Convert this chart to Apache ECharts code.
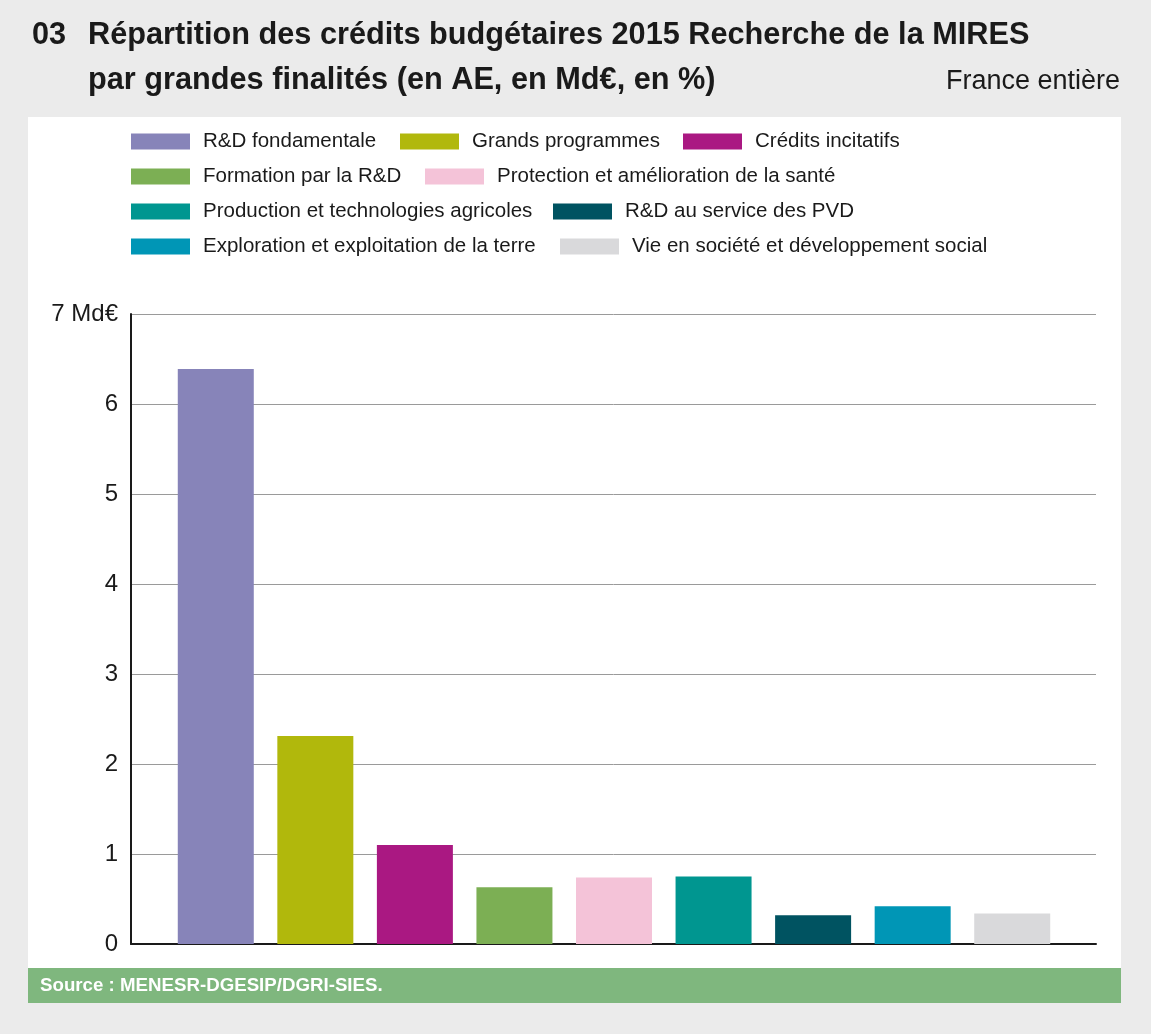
<!DOCTYPE html>
<html>
<head>
<meta charset="utf-8">
<script src="https://cdn.jsdelivr.net/npm/echarts@6/dist/echarts.min.js"></script>
<style>
  html, body { margin: 0; padding: 0; background: #ebebeb; }
  #chart { width: 1151px; height: 1034px; }
</style>
</head>
<body>
<div id="chart"></div>
<script>
// Données
var categories = [
  'R&D fondamentale',
  'Grands programmes',
  'Crédits incitatifs',
  'Formation par la R&D',
  'Protection et amélioration de la santé',
  'Production et technologies agricoles',
  'R&D au service des PVD',
  'Exploration et exploitation de la terre',
  'Vie en société et développement social'
];
var values = [6.39, 2.31, 1.10, 0.63, 0.74, 0.75, 0.32, 0.42, 0.34];
var yTicks = [0, 1, 2, 3, 4, 5, 6, 7];
var colors = ['#8784b9', '#b1b80c', '#aa1882', '#7caf54', '#f4c3d8', '#009690', '#005361', '#0096b6', '#d9d9db'];

var FONT = "'Liberation Sans', Arial, sans-serif";

// position des entrées de légende (gauche, haut)
var legendPos = [
  [131, 131], [400, 131], [683, 131],
  [131, 166], [425, 166],
  [131, 201], [553, 201],
  [131, 236], [560, 236]
];

var legends = categories.map(function (name, i) {
  return {
    data: [name],
    left: legendPos[i][0],
    top: legendPos[i][1],
    icon: 'rect',
    itemWidth: 59,
    itemHeight: 16,
    itemGap: 0,
    padding: 0,
    selectedMode: false,
    textStyle: { fontFamily: FONT, fontSize: 20.5, color: '#1a1a1a', padding: [0, 0, 0, 8] }
  };
});

var series = categories.map(function (name, i) {
  var d = categories.map(function (c, j) { return j === i ? values[i] : null; });
  return {
    name: name,
    type: 'bar',
    stack: 'all',
    xAxisIndex: 1,
    yAxisIndex: 1,
    barWidth: 76,
    itemStyle: { color: colors[i] },
    data: d
  };
});

var titleStyle = { fontFamily: FONT, fontSize: 30.7, fontWeight: 'bold', color: '#1a1a1a' };

var myChart = echarts.init(document.getElementById('chart'), null, { renderer: 'canvas' });
myChart.setOption({
  backgroundColor: '#ebebeb',
  animation: false,
  color: colors,
  textStyle: { fontFamily: FONT },
  graphic: [
    { type: 'rect', z: -10, silent: true, shape: { x: 28, y: 117, width: 1093, height: 851 }, style: { fill: '#ffffff' } },
    { type: 'rect', z: -5, silent: true, shape: { x: 28, y: 968, width: 1093, height: 35 }, style: { fill: '#7fb77e' } },
    { type: 'text', left: 40, top: 976, style: { text: 'Source : MENESR-DGESIP/DGRI-SIES.', fill: '#ffffff', font: 'bold 18.7px ' + FONT } }
  ],
  title: [
    { text: '03', left: 32, top: 20, padding: 0, textStyle: titleStyle },
    { text: 'Répartition des crédits budgétaires 2015 Recherche de la MIRES', left: 88, top: 20, padding: 0, textStyle: titleStyle },
    { text: 'par grandes finalités (en AE, en Md€, en %)', left: 88, top: 65, padding: 0, textStyle: titleStyle },
    { text: 'France entière', right: 31, top: 68, padding: 0, textStyle: { fontFamily: FONT, fontSize: 27, fontWeight: 'normal', color: '#1a1a1a' } }
  ],
  legend: legends,
  grid: [
    { left: 131, right: 55, top: 314, bottom: 90 },
    { left: 166, right: 89, top: 314, bottom: 90 }
  ],
  xAxis: [
    {
      type: 'category', gridIndex: 0, data: [''],
      axisLine: { lineStyle: { color: '#1a1a1a', width: 2 } },
      axisTick: { show: false }, axisLabel: { show: false }
    },
    {
      type: 'category', gridIndex: 1, data: categories,
      axisLine: { show: false }, axisTick: { show: false }, axisLabel: { show: false }
    }
  ],
  yAxis: [
    {
      type: 'value', gridIndex: 0, min: yTicks[0], max: yTicks[yTicks.length - 1], interval: 1,
      axisLine: { show: true, lineStyle: { color: '#1a1a1a', width: 2 } },
      axisTick: { show: false },
      splitLine: { lineStyle: { color: '#9a9a9a', width: 1 } },
      axisLabel: {
        margin: 13, fontFamily: FONT, fontSize: 24, color: '#1a1a1a',
        formatter: function (v) { return v === 7 ? '7 Md€' : String(v); }
      }
    },
    {
      type: 'value', gridIndex: 1, min: yTicks[0], max: yTicks[yTicks.length - 1], interval: 1,
      show: false, splitLine: { show: false }
    }
  ],
  series: series
});
</script>
</body>
</html>
